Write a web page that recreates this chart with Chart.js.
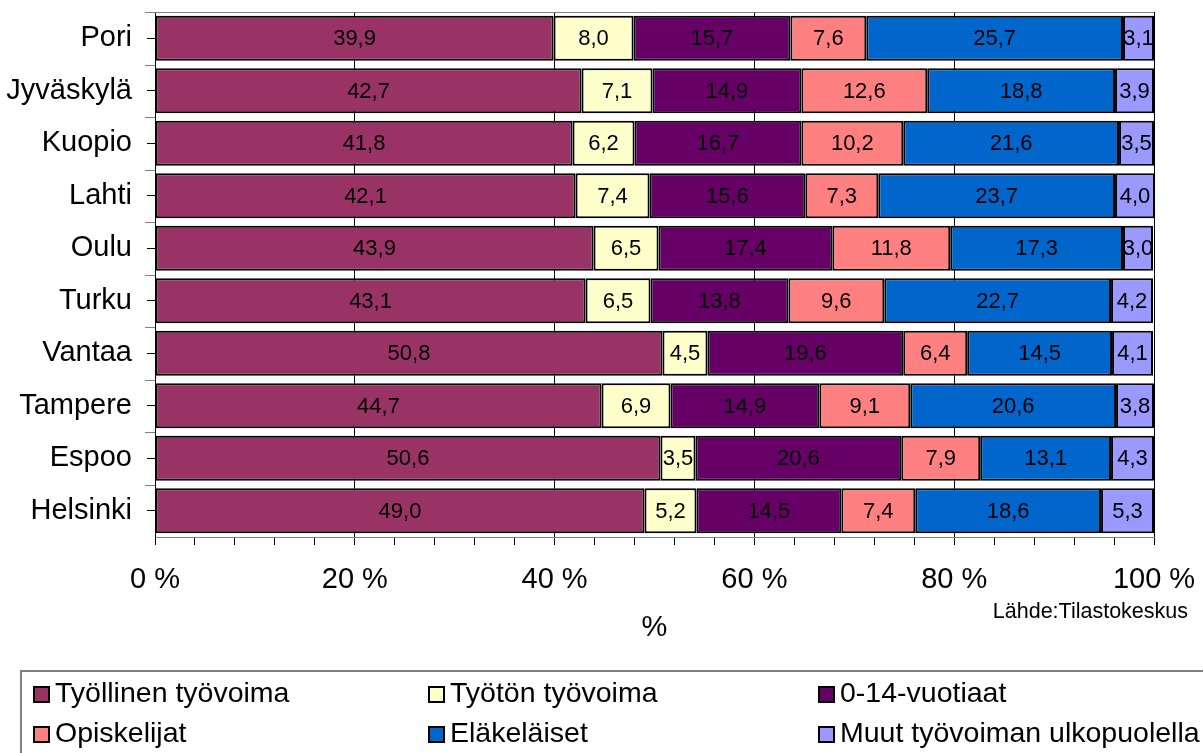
<!DOCTYPE html>
<html>
<head>
<meta charset="utf-8">
<script src="https://cdn.jsdelivr.net/npm/chart.js@4.4.1/dist/chart.umd.min.js"></script>
<style>
	body { margin: 0; background: #fff; }
	#wrap { position: relative; width: 1203px; height: 753px; overflow: hidden; }
	#legend { position: absolute; left: 20px; top: 670px; width: 1220px; height: 120px; border: 2px solid #808080; box-sizing: border-box; font-family: "Liberation Sans", Arial, sans-serif; font-size: 28.5px; color: #000; }
	.item { position: absolute; white-space: nowrap; line-height: 30px; }
	.box { display: inline-block; width: 13px; height: 13px; border: 2px solid #000; margin-right: 5px; vertical-align: -1px; }
</style>
</head>
<body>
<div id="wrap">
	<canvas id="population_chart" width="1203" height="753"></canvas>
	<div id="legend"></div>
</div>
<script>
var cities = ['Pori', 'Jyväskylä', 'Kuopio', 'Lahti', 'Oulu', 'Turku', 'Vantaa', 'Tampere', 'Espoo', 'Helsinki'];
var seriesNames = ['Työllinen työvoima', 'Työtön työvoima', '0-14-vuotiaat', 'Opiskelijat', 'Eläkeläiset', 'Muut työvoiman ulkopuolella'];

var tyollinen   = [39.9, 42.7, 41.8, 42.1, 43.9, 43.1, 50.8, 44.7, 50.6, 49.0];
var tyoton      = [8.0, 7.1, 6.2, 7.4, 6.5, 6.5, 4.5, 6.9, 3.5, 5.2];
var lapset      = [15.7, 14.9, 16.7, 15.6, 17.4, 13.8, 19.6, 14.9, 20.6, 14.5];
var opiskelijat = [7.6, 12.6, 10.2, 7.3, 11.8, 9.6, 6.4, 9.1, 7.9, 7.4];
var elakelaiset = [25.7, 18.8, 21.6, 23.7, 17.3, 22.7, 14.5, 20.6, 13.1, 18.6];
var muut        = [3.1, 3.9, 3.5, 4.0, 3.0, 4.2, 4.1, 3.8, 4.3, 5.3];

var seriesColors = ['#993366', '#FFFFCC', '#660066', '#FF8080', '#0066CC', '#9999FF'];
var FONT = '"Liberation Sans", Arial, sans-serif';

var seriesData = [tyollinen, tyoton, lapset, opiskelijat, elakelaiset, muut];

var datasets = seriesData.map(function (arr, i) {
	return {
		label: seriesNames[i],
		data: arr,
		backgroundColor: seriesColors[i],
		borderColor: '#000',
		borderWidth: 2,
		borderSkipped: false,
		barPercentage: 0.86,
		categoryPercentage: 1
	};
});

/*labels inside the bar segments + frame bits*/
var extrasPlugin = {
	id: 'extras',
	beforeDatasetsDraw: function (chart) {
		var ctx = chart.ctx, a = chart.chartArea;
		var band = (a.bottom - a.top) / cities.length;
		ctx.save();
		ctx.strokeStyle = '#808080';
		ctx.lineWidth = 1;
		ctx.beginPath();
		ctx.moveTo(a.left - 10, a.top + 0.5);
		ctx.lineTo(a.right, a.top + 0.5);
		for (var i = 1; i < cities.length; i++) {
			var y = Math.round(a.top + i * band) + 0.5;
			ctx.moveTo(a.left - 10, y);
			ctx.lineTo(a.left, y);
		}
		ctx.stroke();
		ctx.restore();
	},
	afterDatasetsDraw: function (chart) {
		var ctx = chart.ctx;
		ctx.save();
		ctx.font = '22px ' + FONT;
		ctx.fillStyle = '#000';
		ctx.textAlign = 'center';
		ctx.textBaseline = 'middle';
		chart.data.datasets.forEach(function (ds, i) {
			var meta = chart.getDatasetMeta(i);
			meta.data.forEach(function (bar, j) {
				var cx = (bar.x + bar.base) / 2;
				ctx.fillText(ds.data[j].toFixed(1).replace('.', ','), cx, bar.y + 1);
			});
		});
		ctx.restore();
	},
	afterDraw: function (chart) {
		var ctx = chart.ctx;
		ctx.save();
		ctx.font = '21.5px ' + FONT;
		ctx.fillStyle = '#000';
		ctx.textAlign = 'right';
		ctx.textBaseline = 'middle';
		ctx.fillText('Lähde:Tilastokeskus', 1188, 612);
		ctx.restore();
	}
};

const population_chart = document.getElementById('population_chart');
var PopulationChart = new Chart(population_chart, {
	type: 'bar',
	data: {
		labels: cities,
		datasets: datasets
	},
	options: {
		indexAxis: 'y',
		responsive: false,
		animation: false,
		layout: {
			padding: { top: 12, right: 49, bottom: 108, left: 0 }
		},
		scales: {
			x: {
				stacked: true,
				min: 0,
				max: 100,
				grid: {
					color: function (c) { return c.tick && c.tick.value % 20 === 0 ? '#000' : 'rgba(0,0,0,0)'; },
					tickColor: '#000',
					tickLength: 8,
					lineWidth: 1
				},
				border: { color: '#808080', width: 1 },
				ticks: {
					stepSize: 4,
					autoSkip: false,
					maxRotation: 0,
					padding: 18,
					color: '#000',
					font: { family: FONT, size: 29 },
					callback: function (v) { return v % 20 === 0 ? v + ' %' : ''; }
				},
				title: {
					display: true,
					text: '%',
					color: '#000',
					font: { family: FONT, size: 29 },
					padding: { top: 0, bottom: 0 }
				},
				afterFit: function (scale) {
					scale.height = 108;
					scale.paddingLeft = 0;
					scale.paddingRight = 0;
				}
			},
			y: {
				stacked: true,
				grid: {
					offset: false,
					drawOnChartArea: false,
					color: '#000',
					tickLength: 8
				},
				border: { color: '#000', width: 1 },
				ticks: {
					padding: 15,
					color: '#000',
					font: { family: FONT, size: 29 }
				},
				afterFit: function (scale) {
					scale.width = 155;
					scale.paddingTop = 0;
					scale.paddingBottom = 0;
				}
			}
		},
		plugins: {
			legend: { display: false },
			tooltip: { enabled: false }
		}
	},
	plugins: [extrasPlugin]
});

/*legend, three columns like the original*/
var legendCols = [11, 406, 796];
var legendRows = [5, 45];
var legendEl = document.getElementById('legend');
seriesNames.forEach(function (name, i) {
	var item = document.createElement('div');
	item.className = 'item';
	item.style.left = legendCols[i % 3] + 'px';
	item.style.top = legendRows[Math.floor(i / 3)] + 'px';
	item.innerHTML = '<span class="box" style="background:' + seriesColors[i] + '"></span>' + name;
	legendEl.appendChild(item);
});
</script>
</body>
</html>
